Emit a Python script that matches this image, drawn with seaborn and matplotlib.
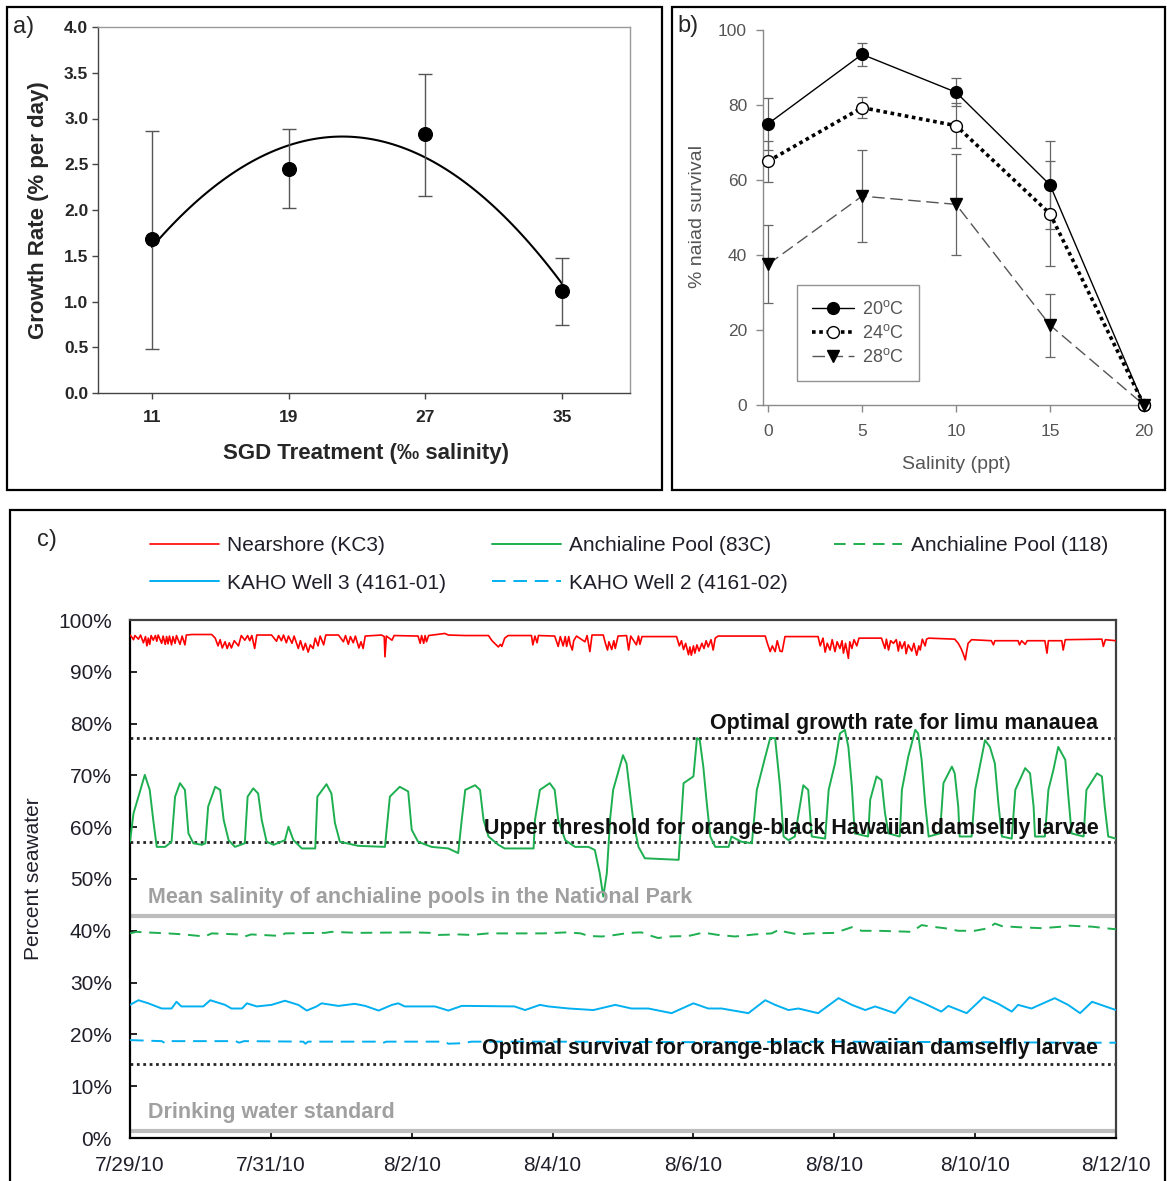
import numpy as np
import pandas as pd
import matplotlib
matplotlib.use("Agg")
import matplotlib.pyplot as plt
from matplotlib.patches import Rectangle
from matplotlib.ticker import PercentFormatter
import seaborn as sns

W, H = 1167, 1181

# a) limu growth rate vs SGD treatment
sgd_salinity = [11, 19, 27, 35]
growth_rate = [1.68, 2.45, 2.83, 1.11]
growth_low = [0.48, 2.02, 2.15, 0.74]
growth_high = [2.86, 2.89, 3.49, 1.47]

# b) naiad survival vs salinity
salinity_ppt = [0, 5, 10, 15, 20]
surv_20c = [75.0, 93.5, 83.4, 58.7, 0.0]
surv_20c_err = [7.0, 3.0, 3.7, 11.7, 0.0]
surv_24c = [65.0, 79.3, 74.5, 51.0, 0.0]
surv_24c_err = [5.5, 2.8, 6.0, 14.0, 0.0]
surv_28c = [37.5, 55.7, 53.5, 21.3, 0.0]
surv_28c_err = [10.4, 12.2, 13.5, 8.4, 0.0]
temp_labels = [r"20$^{\rm o}$C", r"24$^{\rm o}$C", r"28$^{\rm o}$C"]

# c) percent seawater, (days after 7/29/10 00:00, percent)
nearshore = [
    (0.00, 97.1), (0.02, 96.8), (0.05, 96.2), (0.07, 97.0), (0.12, 96.3), (0.15, 97.1),
    (0.19, 95.6), (0.22, 96.8), (0.24, 95.0), (0.26, 96.5), (0.28, 95.3), (0.30, 97.0),
    (0.33, 96.1), (0.36, 97.0), (0.38, 95.9), (0.40, 97.1), (0.45, 95.5), (0.47, 96.9),
    (0.50, 95.3), (0.52, 96.8), (0.54, 95.4), (0.56, 96.9), (0.59, 95.2), (0.61, 96.8),
    (0.64, 95.5), (0.66, 97.0), (0.71, 95.3), (0.74, 96.9), (0.78, 95.2), (0.80, 97.1),
    (0.88, 97.2), (1.16, 97.2), (1.21, 96.5), (1.25, 95.0), (1.28, 96.2), (1.31, 94.6),
    (1.35, 95.8), (1.38, 94.5), (1.41, 95.6), (1.44, 94.6), (1.48, 96.0), (1.54, 95.0),
    (1.58, 97.0), (1.63, 96.1), (1.67, 97.0), (1.70, 96.0), (1.73, 97.0), (1.77, 94.5),
    (1.80, 97.1), (2.01, 97.1), (2.08, 95.9), (2.11, 97.0), (2.15, 96.0), (2.18, 97.1),
    (2.22, 95.6), (2.25, 96.9), (2.30, 95.5), (2.33, 96.9), (2.39, 94.5), (2.42, 96.0),
    (2.46, 94.2), (2.49, 95.5), (2.53, 93.8), (2.56, 95.2), (2.60, 94.5), (2.63, 96.5),
    (2.67, 95.0), (2.70, 96.9), (2.75, 95.2), (2.78, 97.1), (2.96, 97.1), (3.03, 95.8),
    (3.06, 97.0), (3.10, 95.3), (3.13, 96.8), (3.17, 95.6), (3.20, 96.9), (3.25, 94.6),
    (3.28, 95.8), (3.31, 94.5), (3.34, 96.9), (3.57, 97.1), (3.61, 96.8), (3.62, 92.9),
    (3.64, 96.9), (3.72, 96.1), (3.75, 97.0), (4.09, 96.9), (4.12, 95.5), (4.14, 97.0),
    (4.17, 95.5), (4.19, 97.0), (4.21, 95.8), (4.24, 97.0), (4.47, 97.4), (4.52, 97.1),
    (4.76, 97.0), (5.09, 97.0), (5.14, 96.0), (5.20, 95.2), (5.23, 94.8), (5.26, 95.3),
    (5.28, 94.9), (5.32, 96.5), (5.37, 97.0), (5.70, 97.0), (5.72, 95.2), (5.75, 96.9),
    (5.78, 95.6), (5.80, 97.0), (6.03, 96.9), (6.08, 94.9), (6.11, 96.8), (6.15, 95.0),
    (6.18, 96.8), (6.20, 94.9), (6.23, 96.8), (6.25, 95.3), (6.28, 94.2), (6.30, 96.0),
    (6.34, 96.9), (6.46, 95.8), (6.49, 97.0), (6.53, 93.9), (6.56, 97.1), (6.72, 97.1),
    (6.75, 95.5), (6.78, 94.2), (6.80, 95.8), (6.84, 94.3), (6.87, 96.0), (6.89, 94.5),
    (6.93, 96.9), (7.05, 97.0), (7.08, 94.2), (7.11, 96.9), (7.19, 95.2), (7.22, 96.9),
    (7.24, 95.3), (7.27, 96.8), (7.76, 96.8), (7.80, 95.0), (7.83, 96.0), (7.86, 94.3),
    (7.89, 95.5), (7.93, 93.3), (7.95, 94.8), (7.97, 93.2), (8.00, 95.0), (8.02, 93.6),
    (8.05, 95.2), (8.08, 94.0), (8.12, 95.5), (8.15, 94.5), (8.18, 96.0), (8.21, 94.8),
    (8.25, 96.2), (8.28, 94.2), (8.31, 96.5), (8.35, 96.9), (9.02, 96.9), (9.05, 95.5),
    (9.09, 93.9), (9.12, 95.0), (9.16, 93.9), (9.19, 96.0), (9.23, 94.0), (9.26, 93.9),
    (9.30, 96.8), (9.77, 96.8), (9.80, 95.0), (9.84, 96.5), (9.87, 93.8), (9.90, 95.5),
    (9.94, 94.2), (9.97, 96.2), (10.01, 93.9), (10.04, 95.8), (10.08, 94.5), (10.11, 96.0),
    (10.13, 93.6), (10.16, 95.5), (10.20, 92.6), (10.22, 95.8), (10.25, 94.5), (10.28, 96.2),
    (10.32, 95.0), (10.35, 96.5), (10.67, 96.5), (10.72, 94.5), (10.74, 96.3), (10.77, 94.2),
    (10.80, 96.0), (10.84, 95.5), (10.88, 96.2), (10.91, 94.0), (10.93, 95.8), (10.96, 94.5),
    (11.00, 95.8), (11.02, 93.5), (11.05, 95.2), (11.10, 94.0), (11.13, 95.5), (11.17, 93.2),
    (11.20, 95.0), (11.22, 94.2), (11.25, 96.3), (11.29, 95.0), (11.31, 96.3), (11.34, 96.5),
    (11.71, 96.3), (11.76, 95.5), (11.80, 94.5), (11.83, 93.5), (11.86, 92.3), (11.88, 94.0),
    (11.90, 95.5), (11.95, 96.2), (12.23, 96.0), (12.26, 95.2), (12.28, 96.0), (12.61, 96.0),
    (12.63, 95.2), (12.66, 96.0), (12.71, 95.3), (12.74, 96.0), (12.99, 96.0), (13.02, 93.6),
    (13.04, 96.0), (13.23, 96.0), (13.25, 94.2), (13.28, 96.2), (13.80, 96.3), (13.82, 94.9),
    (13.85, 96.2), (14.00, 96.0),
]
pool_83c = [
    (0.00, 57.2), (0.05, 62.7), (0.12, 65.9), (0.21, 70.1), (0.28, 67.2), (0.33, 61.4),
    (0.38, 56.2), (0.50, 56.2), (0.59, 57.2), (0.64, 65.9), (0.71, 68.5), (0.78, 67.2),
    (0.83, 58.8), (0.90, 56.9), (1.02, 56.6), (1.07, 56.9), (1.11, 64.0), (1.21, 67.8),
    (1.28, 67.2), (1.33, 61.4), (1.40, 57.5), (1.49, 56.2), (1.63, 56.9), (1.67, 65.9),
    (1.75, 67.5), (1.82, 66.5), (1.87, 61.4), (1.94, 57.2), (2.04, 56.6), (2.20, 57.5),
    (2.25, 60.1), (2.32, 57.5), (2.44, 55.9), (2.63, 55.9), (2.66, 65.9), (2.79, 68.3),
    (2.86, 66.5), (2.91, 60.8), (2.98, 57.2), (3.24, 56.4), (3.62, 56.2), (3.69, 65.9),
    (3.83, 67.8), (3.95, 66.9), (4.00, 59.5), (4.09, 57.2), (4.28, 56.2), (4.52, 55.9),
    (4.66, 55.0), (4.71, 61.4), (4.76, 67.2), (4.90, 68.1), (4.97, 67.2), (5.02, 61.4),
    (5.09, 58.2), (5.23, 56.6), (5.32, 55.9), (5.73, 55.9), (5.75, 61.4), (5.82, 67.2),
    (5.96, 68.5), (6.03, 67.2), (6.08, 61.4), (6.18, 57.5), (6.32, 56.2), (6.51, 56.2),
    (6.60, 55.6), (6.67, 51.1), (6.72, 46.6), (6.77, 51.1), (6.82, 62.0), (6.86, 67.2),
    (7.00, 73.9), (7.05, 72.3), (7.10, 66.5), (7.15, 60.8), (7.22, 56.2), (7.31, 54.0),
    (7.79, 53.7), (7.86, 68.5), (8.00, 69.8), (8.05, 77.2), (8.09, 76.8), (8.14, 71.7),
    (8.19, 64.6), (8.24, 58.2), (8.31, 56.2), (8.50, 56.2), (8.54, 58.2), (8.68, 57.2),
    (8.83, 56.9), (8.90, 67.2), (9.02, 73.6), (9.09, 77.2), (9.16, 77.2), (9.23, 67.8),
    (9.28, 58.2), (9.35, 57.5), (9.44, 58.2), (9.51, 64.0), (9.56, 68.1), (9.63, 67.2),
    (9.68, 58.2), (9.87, 57.8), (9.92, 67.2), (10.01, 72.3), (10.08, 78.1), (10.15, 78.8),
    (10.20, 75.5), (10.25, 67.8), (10.29, 58.8), (10.48, 58.2), (10.51, 65.3), (10.60, 69.8),
    (10.67, 69.1), (10.72, 62.7), (10.77, 58.8), (10.93, 58.2), (10.96, 67.2), (11.05, 73.6),
    (11.15, 78.8), (11.19, 78.1), (11.24, 73.0), (11.29, 64.6), (11.34, 58.2), (11.50, 58.8),
    (11.55, 68.5), (11.67, 71.7), (11.71, 70.4), (11.76, 64.0), (11.78, 58.2), (11.95, 58.2),
    (12.00, 67.2), (12.14, 76.8), (12.21, 75.5), (12.28, 72.3), (12.33, 64.6), (12.38, 58.2),
    (12.52, 57.8), (12.57, 67.2), (12.71, 71.4), (12.78, 70.4), (12.83, 64.0), (12.85, 58.2),
    (12.99, 58.2), (13.04, 67.2), (13.11, 71.0), (13.18, 75.5), (13.28, 73.0), (13.32, 66.5),
    (13.37, 58.8), (13.54, 58.2), (13.58, 67.2), (13.73, 70.4), (13.80, 69.8), (13.84, 64.0),
    (13.89, 58.2), (14.00, 57.8),
]
pool_118 = [
    (0.00, 39.5), (0.09, 39.8), (0.21, 39.7), (0.54, 39.5), (0.76, 39.3), (1.06, 38.9),
    (1.16, 39.5), (1.54, 39.3), (1.63, 38.9), (1.72, 39.3), (2.15, 39.0), (2.20, 39.5),
    (2.77, 39.6), (2.86, 39.8), (3.24, 39.6), (4.00, 39.7), (4.28, 39.6), (4.38, 39.2),
    (4.66, 39.3), (4.85, 39.2), (5.09, 39.5), (5.87, 39.5), (6.03, 39.6), (6.21, 39.7),
    (6.40, 39.5), (6.51, 39.0), (6.70, 38.9), (6.89, 39.2), (7.08, 39.6), (7.26, 39.7),
    (7.36, 39.2), (7.50, 38.6), (7.64, 38.9), (7.93, 39.0), (8.12, 39.6), (8.21, 39.5),
    (8.35, 39.2), (8.59, 38.9), (8.87, 39.3), (9.11, 39.5), (9.23, 40.3), (9.30, 39.8),
    (9.49, 39.3), (9.68, 39.5), (10.01, 39.6), (10.25, 40.7), (10.39, 40.0), (10.63, 40.0),
    (11.10, 39.8), (11.24, 41.1), (11.38, 40.8), (11.57, 40.5), (11.76, 40.0), (11.99, 40.0),
    (12.19, 40.5), (12.28, 41.4), (12.38, 40.9), (12.61, 40.7), (12.95, 40.5), (13.23, 40.8),
    (13.33, 41.0), (13.47, 40.9), (13.66, 40.8), (13.85, 40.5), (14.00, 40.3),
]
well_3 = [
    (0.00, 25.7), (0.12, 26.6), (0.26, 26.0), (0.45, 25.0), (0.59, 25.0), (0.66, 26.3),
    (0.73, 25.4), (1.04, 25.4), (1.14, 26.6), (1.35, 25.7), (1.44, 25.0), (1.59, 25.0),
    (1.66, 26.0), (1.80, 25.4), (2.01, 25.7), (2.20, 26.5), (2.39, 25.7), (2.51, 24.6),
    (2.65, 25.4), (2.72, 26.0), (2.96, 25.5), (3.19, 25.9), (3.34, 25.5), (3.53, 24.6),
    (3.72, 25.7), (3.81, 26.0), (3.90, 25.4), (4.33, 25.4), (4.52, 24.6), (4.71, 25.5),
    (4.80, 25.5), (5.46, 25.4), (5.61, 24.7), (5.82, 25.7), (5.94, 25.4), (6.23, 25.0),
    (6.58, 24.7), (6.89, 25.7), (7.12, 25.0), (7.36, 25.0), (7.69, 24.1), (8.00, 26.0),
    (8.21, 25.0), (8.40, 25.0), (8.78, 24.1), (9.02, 26.6), (9.16, 25.7), (9.35, 24.7),
    (9.49, 25.0), (9.77, 24.1), (10.06, 27.0), (10.25, 25.7), (10.44, 24.7), (10.58, 25.4),
    (10.86, 24.1), (11.07, 27.2), (11.29, 25.9), (11.52, 24.4), (11.62, 25.5), (11.88, 24.1),
    (12.12, 27.2), (12.33, 25.9), (12.52, 24.4), (12.61, 25.7), (12.80, 25.0), (13.13, 27.0),
    (13.32, 25.7), (13.49, 24.1), (13.66, 26.3), (13.85, 25.4), (14.00, 24.7),
]
well_2 = [
    (0.00, 18.9), (0.45, 18.7), (0.50, 18.3), (0.56, 18.7), (1.50, 18.7), (1.55, 18.4),
    (1.62, 18.7), (2.46, 18.6), (2.49, 18.2), (2.53, 18.6), (3.53, 18.6), (3.58, 18.3),
    (3.64, 18.6), (4.47, 18.6), (4.52, 18.2), (4.72, 18.3), (4.85, 18.6), (6.00, 18.6),
    (8.00, 18.5), (10.00, 18.6), (12.00, 18.5), (13.50, 18.4), (14.00, 18.4),
]
series_labels = ["Nearshore (KC3)", "Anchialine Pool (83C)", "Anchialine Pool (118)",
                 "KAHO Well 3 (4161-01)", "KAHO Well 2 (4161-02)"]
start_date = "2010-07-29"
tick_dates = ["2010-07-29", "2010-07-31", "2010-08-02", "2010-08-04",
              "2010-08-06", "2010-08-08", "2010-08-10", "2010-08-12"]
tick_labels = ["7/29/10", "7/31/10", "8/2/10", "8/4/10", "8/6/10", "8/8/10", "8/10/10", "8/12/10"]
limu_optimum = 27 / 35 * 100
damselfly_upper = 20 / 35 * 100
pool_mean = 15 / 35 * 100
damselfly_optimum = 5 / 35 * 100
drinking_water = 0.5 / 35 * 100

sns.set_style("white")
plt.rcParams["font.family"] = ["Liberation Sans", "DejaVu Sans"]
plt.rcParams["mathtext.fontset"] = "custom"
plt.rcParams["mathtext.rm"] = "Liberation Sans"


def box(l, t, r, b):
    return [l / W, 1 - b / H, (r - l) / W, (b - t) / H]


fig = plt.figure(figsize=(W / 100, H / 100), dpi=100)
fig.patch.set_facecolor("white")

# panel frames
for l, t, r, b in [(7, 7, 662, 490), (672, 7, 1165, 490), (10, 510, 1165, 1190)]:
    fig.add_artist(Rectangle((l / W, 1 - b / H), (r - l) / W, (b - t) / H,
                             transform=fig.transFigure, fill=False, lw=1.6, ec="black"))
fig.text(13 / W, 1 - 27 / H, "a)", fontsize=17, va="center")
fig.text(677 / W, 1 - 26 / H, "b)", fontsize=17, va="center")
fig.text(37 / W, 1 - 540 / H, "c)", fontsize=17, va="center")

# ---------------- a)
ax = fig.add_axes(box(98, 27, 630, 393))
sns.regplot(x=sgd_salinity, y=growth_rate, order=2, ci=None, scatter=False, truncate=True,
            line_kws=dict(color="black", lw=1.5), ax=ax)
ax.errorbar(sgd_salinity, growth_rate,
            yerr=[np.subtract(growth_rate, growth_low), np.subtract(growth_high, growth_rate)],
            fmt="none", ecolor="#555555", elinewidth=1, capsize=4.7, capthick=1, zorder=3)
sns.scatterplot(x=sgd_salinity, y=growth_rate, s=100, color="black", edgecolor="black",
                zorder=5, ax=ax)
ax.set_xlim(7.84, 38.98)
ax.set_ylim(0, 4)
ax.set_xticks(sgd_salinity)
ax.set_yticks(np.arange(0, 4.01, 0.5))
ax.yaxis.set_major_formatter(matplotlib.ticker.FormatStrFormatter("%.1f"))
ax.tick_params(axis="both", direction="out", length=4, width=1, color="#444444",
               labelsize=12.5, left=True, bottom=True)
ax.tick_params(axis="y", pad=3)
ax.tick_params(axis="x", pad=8)
for lab in ax.get_xticklabels() + ax.get_yticklabels():
    lab.set_fontweight("bold")
for side, c in [("left", "#444444"), ("bottom", "#444444"), ("top", "#9a9a9a"), ("right", "#9a9a9a")]:
    ax.spines[side].set_color(c)
    ax.spines[side].set_linewidth(1)
ax.set_xlabel("SGD Treatment (\u2030 salinity)", fontsize=16, fontweight="bold")
ax.set_ylabel("Growth Rate (% per day)", fontsize=16, fontweight="bold")
ax.xaxis.set_label_coords(0.504, -0.137)
ax.yaxis.set_label_coords(-0.092, 0.5)

# ---------------- b)
ax = fig.add_axes(box(763, 30, 1150, 405))
handles = []
for vals, errs, ls, lw, mk, mfc, lc in [
    (surv_20c, surv_20c_err, "-", 1.0, "o", "black", "black"),
    (surv_24c, surv_24c_err, (0, (1, 1)), 2.6, "o", "white", "black"),
    (surv_28c, surv_28c_err, (0, (9, 4)), 1.0, "v", "black", "#555555"),
]:
    ax.errorbar(salinity_ppt, vals, yerr=errs, fmt="none", ecolor="#666666",
                elinewidth=0.9, capsize=3.6, capthick=0.9, zorder=2)
    sns.lineplot(x=salinity_ppt, y=vals, estimator=None, errorbar=None, color=lc,
                 linestyle=ls, lw=lw, marker=mk, markersize=8.5, markerfacecolor=mfc,
                 markeredgecolor="black", markeredgewidth=1, clip_on=False, zorder=4, ax=ax)
    handles.append(ax.lines[-1])
ax.set_xlim(-0.27, 20.32)
ax.set_ylim(0, 100)
ax.set_xticks(salinity_ppt)
ax.set_yticks([0, 20, 40, 60, 80, 100])
sns.despine(ax=ax)
for side in ["left", "bottom"]:
    ax.spines[side].set_color("#8a8a8a")
    ax.spines[side].set_linewidth(1)
ax.tick_params(axis="both", direction="out", length=5, width=1, color="#8a8a8a",
               labelsize=12.5, labelcolor="#555555", left=True, bottom=True)
ax.tick_params(axis="y", pad=6.5)
ax.tick_params(axis="x", pad=9)
ax.set_xlabel("Salinity (ppt)", fontsize=14, color="#555555")
ax.set_ylabel("% naiad survival", fontsize=14, color="#555555")
ax.xaxis.set_label_coords(0.499, -0.137)
ax.yaxis.set_label_coords(-0.148, 0.504)
leg = ax.legend(handles, temp_labels, loc="upper left", bbox_to_anchor=(0.088, 0.32),
                borderaxespad=0, fontsize=13, frameon=True, fancybox=False, edgecolor="#777777",
                handlelength=2.3, handletextpad=0.45, labelspacing=0.32, borderpad=0.85)
leg.get_frame().set_linewidth(1)
for t in leg.get_texts():
    t.set_color("#555555")

# ---------------- c)
ax = fig.add_axes(box(130, 620, 1116, 1138))
t0 = pd.Timestamp(start_date)
styles = [
    (nearshore, "#FF0000", "-", 1.2),
    (pool_83c, "#1DAF50", "-", 1.4),
    (pool_118, "#1DAF50", (0, (6, 4)), 1.4),
    (well_3, "#00B0F0", "-", 1.4),
    (well_2, "#00B0F0", (0, (7, 4)), 1.4),
]
lines_c = []
for data, col, ls, lw in styles:
    df = pd.DataFrame(data, columns=["day", "pct"])
    df["time"] = t0 + pd.to_timedelta(df["day"], unit="D")
    sns.lineplot(data=df, x="time", y="pct", estimator=None, errorbar=None, sort=False,
                 color=col, linestyle=ls, lw=lw, zorder=3, ax=ax)
    lines_c.append(ax.lines[-1])

dot = (0, (1, 1.3))
for yv in [limu_optimum, damselfly_upper, damselfly_optimum]:
    ax.axhline(yv, color="#262626", lw=2, linestyle=dot, zorder=2)
for yv in [pool_mean, drinking_water]:
    ax.axhline(yv, color="#BDBDBD", lw=3, zorder=2)

ytr = ax.get_yaxis_transform()
ax.text(0.982, 79.0, "Optimal growth rate for limu manauea", transform=ytr, ha="right",
        va="baseline", fontsize=15.5, fontweight="bold", color="#111111", zorder=6)
ax.text(0.982, 58.7, "Upper threshold for orange-black Hawaiian damselfly larvae", transform=ytr,
        ha="right", va="baseline", fontsize=15.5, fontweight="bold", color="#111111", zorder=6)
ax.text(0.982, 16.2, "Optimal survival for orange-black Hawaiian damselfly larvae", transform=ytr,
        ha="right", va="baseline", fontsize=15.5, fontweight="bold", color="#111111", zorder=6)
ax.text(0.018, 45.4, "Mean salinity of anchialine pools in the National Park", transform=ytr,
        ha="left", va="baseline", fontsize=15.5, fontweight="bold", color="#A0A0A0", zorder=6)
ax.text(0.018, 3.9, "Drinking water standard", transform=ytr,
        ha="left", va="baseline", fontsize=15.5, fontweight="bold", color="#A0A0A0", zorder=6)

ax.set_xlim(pd.Timestamp(tick_dates[0]), pd.Timestamp(tick_dates[-1]))
ax.set_ylim(0, 100)
ax.set_xticks(pd.to_datetime(tick_dates))
ax.set_xticklabels(tick_labels)
ax.set_yticks(np.arange(0, 101, 10))
ax.yaxis.set_major_formatter(PercentFormatter(xmax=100, decimals=0))
ax.tick_params(axis="both", direction="in", length=5, width=1.2, color="black",
               labelsize=15, labelcolor="#1f1f2a", left=True, bottom=True)
ax.tick_params(axis="y", pad=13)
ax.tick_params(axis="x", pad=13)
for side, c in [("left", "black"), ("bottom", "black"), ("top", "#404040"), ("right", "#404040")]:
    ax.spines[side].set_color(c)
    ax.spines[side].set_linewidth(1.6)
ax.set_xlabel("")
ax.set_ylabel("Percent seawater", fontsize=15, color="#1f1f2a")
ax.yaxis.set_label_coords(-0.088, 0.5)

order = [0, 3, 1, 4, 2]
fig.legend([lines_c[i] for i in order], [series_labels[i] for i in order], ncol=3,
           loc="upper left", bbox_to_anchor=(150 / W, 1 - 536 / H), frameon=False,
           fontsize=15, handlelength=3.3, handletextpad=0.4, columnspacing=2.2,
           labelspacing=0.9, borderpad=0, borderaxespad=0, labelcolor="#1f1f2a")

fig.savefig("out.png", dpi=100, facecolor="white")
